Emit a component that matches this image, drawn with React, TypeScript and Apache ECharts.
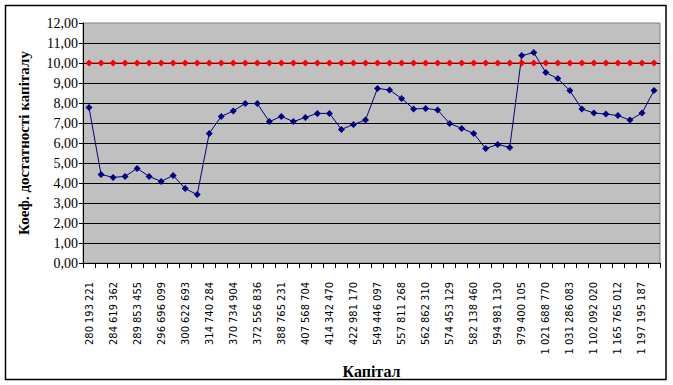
import React, { useEffect, useRef } from "react";
import * as echarts from "echarts";

const categories: string[] = [
  "280 193 221", "", "284 619 362", "", "289 853 455", "", "296 696 099", "",
  "300 622 693", "", "314 740 284", "", "370 734 904", "", "372 556 836", "",
  "388 765 231", "", "407 568 704", "", "414 342 470", "", "422 981 170", "",
  "549 446 097", "", "557 811 268", "", "562 862 310", "", "574 453 129", "",
  "582 138 460", "", "594 981 130", "", "979 400 105", "", "1 021 688 770", "",
  "1 031 286 083", "", "1 102 092 020", "", "1 165 765 012", "", "1 197 195 187", "",
];

const capitalAdequacy: number[] = [
  7.77, 4.43, 4.28, 4.33, 4.73, 4.33, 4.08, 4.38, 3.72, 3.42, 6.48, 7.33,
  7.6, 7.98, 7.97, 7.07, 7.33, 7.07, 7.28, 7.48, 7.48, 6.68, 6.93, 7.15,
  8.73, 8.65, 8.23, 7.7, 7.73, 7.65, 6.98, 6.73, 6.48, 5.72, 5.93, 5.78,
  10.37, 10.52, 9.52, 9.22, 8.62, 7.7, 7.5, 7.45, 7.37, 7.15, 7.5, 8.62,
];

const normativeValue = 10;
const normative: number[] = categories.map(() => normativeValue);

const yTitle = "Коеф. достатності капіталу";
const xTitle = "Капітал";

export default function App() {
  const ref = useRef<HTMLDivElement>(null);
  useEffect(() => {
    if (!ref.current) return;
    const chart = echarts.init(ref.current, null, { renderer: "svg" });
    chart.setOption({
      animation: false,
      backgroundColor: "#ffffff",
      graphic: [
        {
          type: "rect",
          shape: { x: 5.5, y: 5.5, width: 660.5, height: 374 },
          style: { fill: "none", stroke: "#000", lineWidth: 1.5 },
          silent: true,
          z: 100,
        },
      ],
      grid: {
        left: 83,
        top: 23,
        right: 13,
        bottom: 122,
        show: true,
        backgroundColor: "#c0c0c0",
        borderColor: "#808080",
        borderWidth: 1,
      },
      xAxis: {
        type: "category",
        data: categories,
        boundaryGap: true,
        name: xTitle,
        nameLocation: "middle",
        nameGap: 100,
        nameTextStyle: {
          fontFamily: "Liberation Serif",
          fontWeight: "bold",
          fontSize: 16,
          color: "#000",
        },
        axisLine: { show: true, lineStyle: { color: "#000", width: 1 } },
        axisTick: { show: true, interval: 0, length: 5, lineStyle: { color: "#000" } },
        axisLabel: {
          interval: 0,
          rotate: 90,
          margin: 19,
          fontFamily: "'Liberation Sans Narrow', 'Arial Narrow', 'DejaVu Sans Condensed', sans-serif",
          fontSize: 11,
          color: "#000",
        },
        splitLine: { show: false },
      },
      yAxis: {
        type: "value",
        min: 0,
        max: 12,
        interval: 1,
        name: yTitle,
        nameLocation: "middle",
        nameGap: 52,
        nameTextStyle: {
          fontFamily: "Liberation Serif",
          fontWeight: "bold",
          fontSize: 15,
          color: "#000",
        },
        axisLine: { show: true, lineStyle: { color: "#000", width: 1 } },
        axisTick: { show: true, length: 4, lineStyle: { color: "#000" } },
        axisLabel: {
          margin: 5,
          fontFamily: "'Liberation Serif', serif",
          fontSize: 14,
          color: "#000",
          formatter: (v: number) => v.toFixed(2).replace(".", ","),
        },
        splitLine: {
          show: true,
          showMaxLine: false,
          lineStyle: { color: "#000", width: 1 },
        },
      },
      series: [
        {
          type: "line",
          data: capitalAdequacy,
          symbol: "diamond",
          symbolSize: 7,
          lineStyle: { color: "#000080", width: 1 },
          itemStyle: { color: "#000080" },
          z: 2,
        },
        {
          type: "line",
          data: normative,
          symbol: "diamond",
          symbolSize: 7,
          lineStyle: { color: "#ff0000", width: 1 },
          itemStyle: { color: "#ff0000" },
          z: 3,
        },
      ],
    });
    return () => chart.dispose();
  }, []);
  return (
    <div
      ref={ref}
      style={{ position: "fixed", left: 0, top: 0, width: 673, height: 385 }}
    />
  );
}
